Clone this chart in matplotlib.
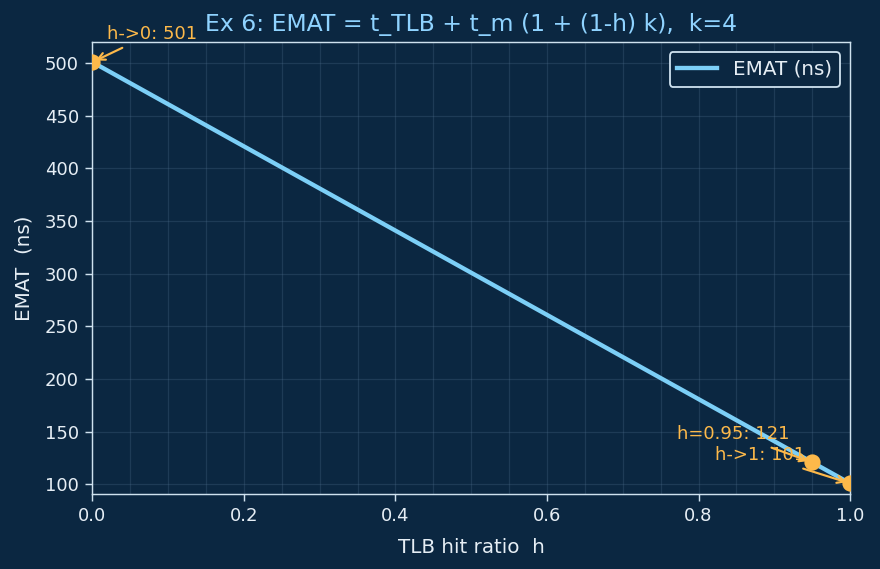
import matplotlib
matplotlib.use("Agg")
import matplotlib.pyplot as plt
from matplotlib.ticker import MultipleLocator

# EMAT at a few hit ratios
h_vals = [0.0, 0.25, 0.5, 0.75, 0.95, 1.0]
emat_vals = [501, 401, 301, 201, 121, 101]

# highlighted points: (h, value, label)
mark_h = [0.0, 0.95, 1.0]
mark_v = [501, 121, 101]
mark_labels = ["h->0: 501", "h=0.95: 121", "h->1: 101"]

BG = "#0b2741"
LINE = "#7ccff7"
ORANGE = "#fdb94a"
FG = "#e6eef5"
SPINE = "#cfe2ef"
GRID = "#4a6a88"


def main():
    dpi = 130
    fig, ax = plt.subplots(figsize=(880 / dpi, 569 / dpi), dpi=dpi)
    fig.patch.set_facecolor(BG)
    ax.set_facecolor(BG)

    ax.plot(h_vals, emat_vals, color=LINE, lw=2.4, label="EMAT (ns)", zorder=3)
    ax.plot(mark_h, mark_v, "o", color=ORANGE, ms=8, zorder=4)

    offsets = [(8, 13), (-75, 13), (-75, 13)]
    for x, y, lab, off in zip(mark_h, mark_v, mark_labels, offsets):
        ax.annotate(lab, xy=(x, y), xytext=off, textcoords="offset points",
                    color=ORANGE, fontsize=10,
                    arrowprops=dict(arrowstyle="->", color=ORANGE, lw=1.2))

    ax.set_xlim(0, 1)
    ax.set_ylim(91, 520)
    ax.xaxis.set_minor_locator(MultipleLocator(0.05))
    ax.grid(which="major", color=GRID, alpha=0.3, lw=0.7)
    ax.grid(which="minor", axis="x", color=GRID, alpha=0.3, lw=0.7)
    ax.tick_params(which="major", colors=SPINE, labelcolor=FG, labelsize=10, length=4)
    ax.tick_params(which="minor", length=0)
    for s in ax.spines.values():
        s.set_color(SPINE)

    ax.set_xlabel("TLB hit ratio  h", color=FG, fontsize=11, labelpad=7)
    ax.set_ylabel("EMAT  (ns)", color=FG, fontsize=11, labelpad=6)
    ax.set_title("Ex 6: EMAT = t_TLB + t_m (1 + (1-h) k),  k=4", color="#8fd3ff", fontsize=13)

    ax.legend(loc="upper right", fontsize=11, facecolor=BG, edgecolor=SPINE,
              labelcolor=FG, framealpha=1)

    fig.subplots_adjust(left=0.105, right=0.966, top=0.926, bottom=0.132)
    fig.savefig("out.png", dpi=dpi, facecolor=BG)


if __name__ == "__main__":
    main()
